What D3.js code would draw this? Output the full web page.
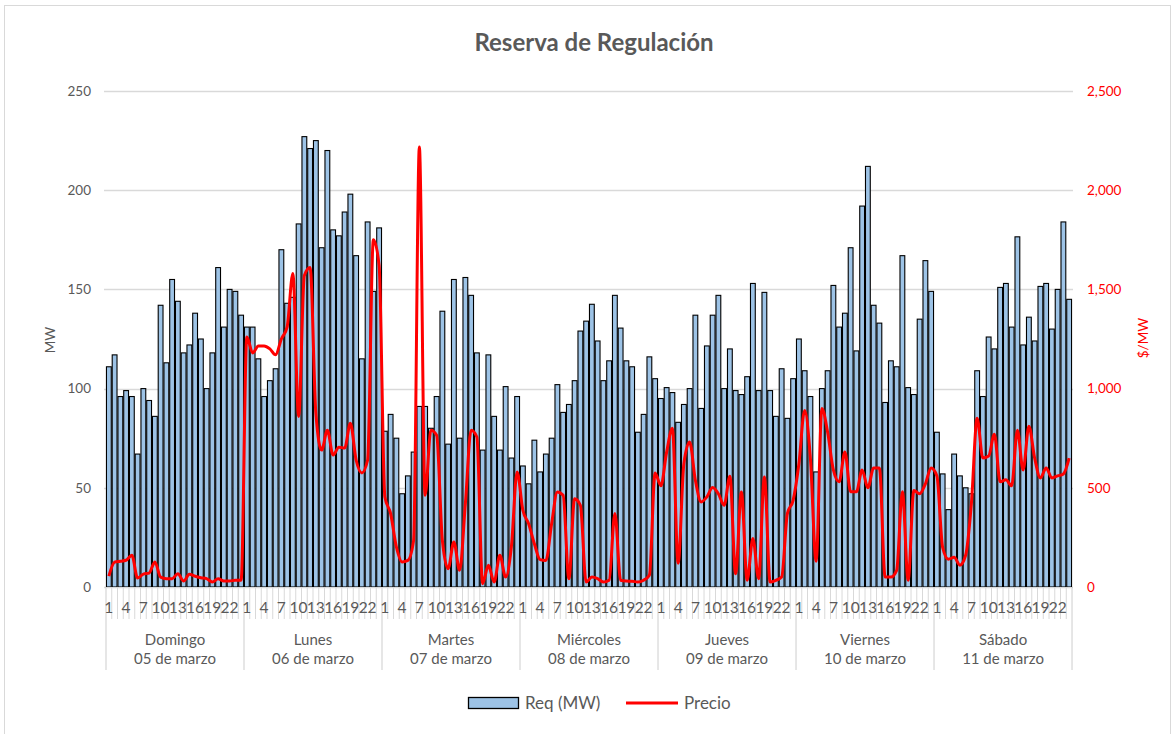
<!DOCTYPE html>
<html>
<head>
<meta charset="utf-8">
<script src="https://cdn.jsdelivr.net/npm/d3@7"></script>
<style>
  body { margin: 0; background: #fff; }
  svg { display: block; font-family: Lato, "Open Sans", sans-serif; }
</style>
</head>
<body>
<div id="chart"></div>
<script>
// dias y fechas
var dias = ["Domingo", "Lunes", "Martes", "Miércoles", "Jueves", "Viernes", "Sábado"];
var fechas = ["05 de marzo", "06 de marzo", "07 de marzo", "08 de marzo", "09 de marzo", "10 de marzo", "11 de marzo"];
var horas = d3.range(1, 25);
var horasEtiqueta = [1, 4, 7, 10, 13, 16, 19, 22];

// Req (MW), una fila por dia, 24 horas
var reqMW = [
  [111, 117, 96, 99, 96, 67, 100, 94, 86, 142, 113, 155, 144, 118, 122, 138, 125, 100, 118, 161, 131, 150, 149, 137],
  [131, 131, 115, 96, 104, 110, 170, 143, 146, 183, 227, 221, 225, 171, 220, 180, 177, 189, 198, 167, 115, 184, 149, 181],
  [78.5, 87, 75, 47, 56, 68, 91, 91, 80, 96, 139, 72, 155, 75, 156, 147, 118, 69, 117, 86, 69, 101, 65, 96],
  [61, 52, 74, 58, 67, 75, 102, 88, 92, 104, 129, 134, 142.5, 124, 104, 114, 147, 130.5, 114, 111, 78, 87, 116, 105],
  [95, 100.5, 98, 83, 92, 100, 137, 90, 121.5, 137, 147, 100, 120, 99, 97, 106, 153, 99, 148.5, 99, 86, 110, 85, 105],
  [125, 109, 96, 58, 100, 109, 152, 131, 138, 171, 119, 192, 212, 142, 133, 93, 114, 111, 167, 100.5, 97, 135, 164.5, 149],
  [78, 57, 39, 67, 56, 50, 47, 109, 96, 126, 120, 151, 153, 131, 176.5, 122, 136, 124, 151.5, 153, 130, 150, 184, 145]
];

// Precio ($/MW)
var precio = [
  [55, 125, 130, 135, 160, 45, 65, 70, 126, 50, 42, 42, 67, 30, 64, 54, 47, 42, 25, 42, 30, 30, 34, 34],
  [1260, 1180, 1215, 1215, 1200, 1170, 1250, 1310, 1580, 860, 1570, 1610, 875, 690, 790, 665, 705, 700, 825, 640, 575, 640, 1750, 1620],
  [454, 370, 202, 126, 134, 235, 2218, 462, 790, 765, 235, 92, 227, 84, 420, 790, 756, 17, 109, 25, 160, 50, 202, 580],
  [387, 319, 218, 138, 134, 319, 479, 462, 42, 445, 412, 25, 50, 42, 25, 34, 370, 34, 30, 29, 25, 34, 59, 575],
  [510, 680, 800, 120, 622, 731, 538, 429, 454, 501, 470, 412, 558, 67, 479, 34, 244, 42, 555, 25, 34, 50, 370, 437],
  [620, 890, 650, 130, 900, 780, 590, 530, 680, 480, 480, 590, 500, 600, 600, 50, 50, 84, 480, 34, 487, 470, 520, 600],
  [560, 200, 140, 150, 110, 160, 420, 850, 650, 660, 770, 530, 540, 510, 790, 590, 810, 650, 550, 600, 550, 560, 570, 650]
];

var mwTicks = [0, 50, 100, 150, 200, 250];
var precioTicks = [0, 500, 1000, 1500, 2000, 2500];

var W = 1176, H = 734;
var gris = "#595959", grid = "#d9d9d9";

var serie = [];
dias.forEach(function (d, i) {
  horas.forEach(function (h, j) {
    serie.push({ key: i + "-" + h, dia: i, hora: h, req: reqMW[i][j], precio: precio[i][j] });
  });
});

var svg = d3.select("#chart").append("svg").attr("width", W).attr("height", H);

svg.append("rect").attr("x", 4.5).attr("y", 5.5).attr("width", 1166).attr("height", 740)
  .attr("fill", "#fff").attr("stroke", grid);

var x = d3.scaleBand().domain(serie.map(function (d) { return d.key; }))
  .range([106, 1072]).paddingInner(0.165).paddingOuter(0.08);
var step = x.step();
var y = d3.scaleLinear().domain([0, 250]).range([587, 91]);
var y2 = d3.scaleLinear().domain([0, 2500]).range([587, 91]);

// title
svg.append("text").attr("x", 594).attr("y", 51).attr("text-anchor", "middle")
  .attr("font-size", 24).attr("font-weight", 700).attr("fill", gris)
  .text("Reserva de Regulación");

// grid
svg.append("g").selectAll("line").data(mwTicks).enter().append("line")
  .attr("x1", 104).attr("x2", 1073)
  .attr("y1", function (d) { return Math.round(y(d)) + 0.5; })
  .attr("y2", function (d) { return Math.round(y(d)) + 0.5; })
  .attr("stroke", grid).attr("stroke-width", 1.3);

// axes
var yAxis = d3.axisLeft(y).tickValues(mwTicks).tickSize(0).tickPadding(13);
var gy = svg.append("g").attr("transform", "translate(104,0)").call(yAxis);
gy.select(".domain").remove();
gy.selectAll("text").attr("fill", gris).attr("font-size", 13.5).attr("font-family", "Lato");

var y2Axis = d3.axisRight(y2).tickValues(precioTicks).tickSize(0).tickPadding(14)
  .tickFormat(d3.format(","));
var gy2 = svg.append("g").attr("transform", "translate(1073,0)").call(y2Axis);
gy2.select(".domain").remove();
gy2.selectAll("text").attr("fill", "#ff0000").attr("font-size", 13.5).attr("font-family", "Lato");

svg.append("text").attr("transform", "translate(55,340) rotate(-90)")
  .attr("text-anchor", "middle").attr("font-size", 13.5).attr("fill", gris).text("MW");
svg.append("text").attr("transform", "translate(1148,338) rotate(-90)")
  .attr("text-anchor", "middle").attr("font-size", 13.5).attr("fill", "#ff0000").text("$/MW");

// bars
svg.append("g").selectAll("rect").data(serie).enter().append("rect")
  .attr("x", function (d) { return x(d.key); })
  .attr("width", x.bandwidth())
  .attr("y", function (d) { return y(d.req); })
  .attr("height", function (d) { return y(0) - y(d.req); })
  .attr("fill", "#9dc3e6").attr("stroke", "#000").attr("stroke-width", 1.1);

// category axis
var xa = svg.append("g");
xa.append("line").attr("x1", 106).attr("x2", 1072).attr("y1", 587.5).attr("y2", 587.5)
  .attr("stroke", grid);
xa.selectAll(".tk").data(d3.range(169)).enter().append("line")
  .attr("x1", function (i) { return 106 + i * step; })
  .attr("x2", function (i) { return 106 + i * step; })
  .attr("y1", 588)
  .attr("y2", function (i) { return i % 24 === 0 ? 670 : 619; })
  .attr("stroke", grid).attr("stroke-width", function (i) { return i % 24 === 0 ? 1.3 : 1; });

xa.selectAll(".hl").data(serie.filter(function (d) { return horasEtiqueta.indexOf(d.hora) >= 0; }))
  .enter().append("text")
  .attr("x", function (d) { return x(d.key) + x.bandwidth() / 2; })
  .attr("y", 613).attr("text-anchor", "middle")
  .attr("font-size", 15.5).attr("fill", gris)
  .text(function (d) { return d.hora; });

var dg = xa.selectAll(".dl").data(dias).enter().append("g");
dg.append("text")
  .attr("x", function (d, i) { return 106 + (i + 0.5) * 24 * step; })
  .attr("y", 645).attr("text-anchor", "middle").attr("font-size", 15).attr("fill", gris)
  .text(function (d) { return d; });
dg.append("text")
  .attr("x", function (d, i) { return 106 + (i + 0.5) * 24 * step; })
  .attr("y", 664).attr("text-anchor", "middle").attr("font-size", 15).attr("fill", gris)
  .text(function (d, i) { return fechas[i]; });

// price line
var line = d3.line()
  .x(function (d) { return x(d.key) + x.bandwidth() / 2; })
  .y(function (d) { return y2(d.precio); })
  .curve(d3.curveMonotoneX);
svg.append("path").datum(serie).attr("d", line)
  .attr("fill", "none").attr("stroke", "#ff0000").attr("stroke-width", 3)
  .attr("stroke-linejoin", "round");

// legend
var lg = svg.append("g");
lg.append("rect").attr("x", 468.5).attr("y", 697.5).attr("width", 50).attr("height", 11)
  .attr("fill", "#9dc3e6").attr("stroke", "#000").attr("stroke-width", 1.3);
lg.append("text").attr("x", 525).attr("y", 709).attr("font-size", 17).attr("fill", gris).text("Req (MW)");
lg.append("line").attr("x1", 626).attr("x2", 678).attr("y1", 703).attr("y2", 703)
  .attr("stroke", "#ff0000").attr("stroke-width", 3);
lg.append("text").attr("x", 684).attr("y", 709).attr("font-size", 17).attr("fill", gris).text("Precio");
</script>
</body>
</html>
